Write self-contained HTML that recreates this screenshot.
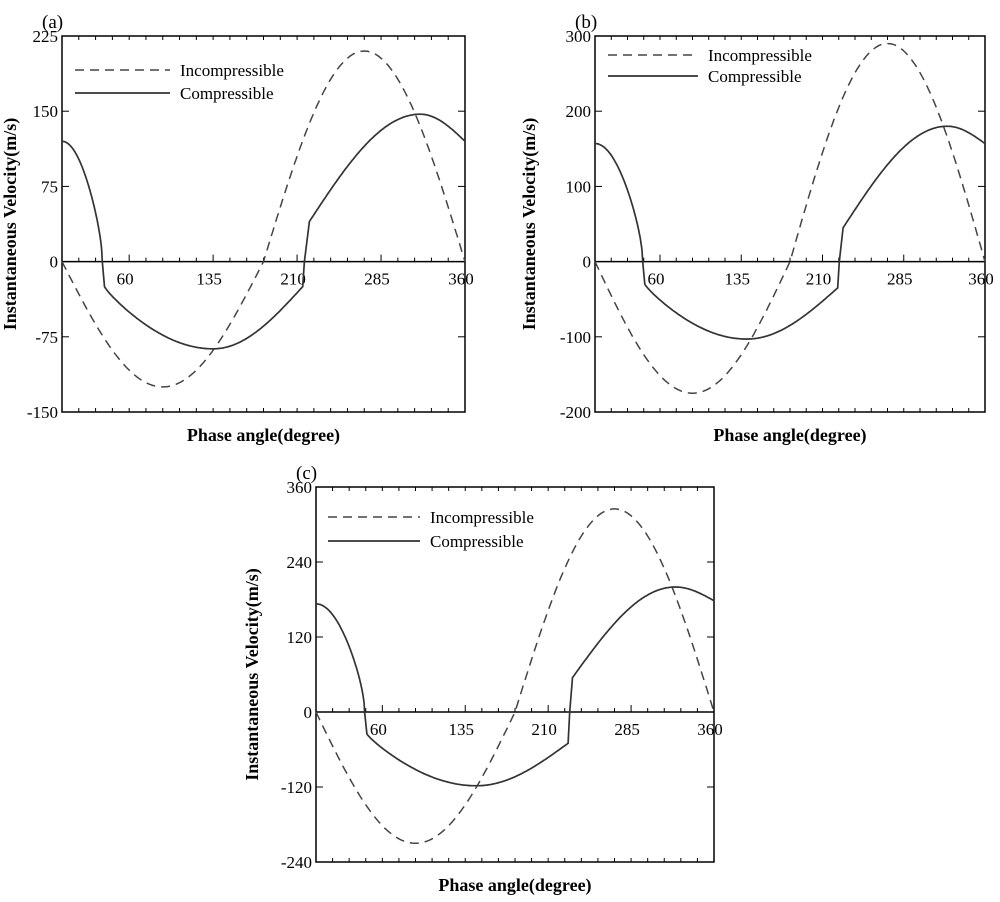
<!DOCTYPE html>
<html><head><meta charset="utf-8"><style>
body{margin:0;background:#fff;}
svg text{font-family:"Liberation Serif",serif;fill:#000;}
</style></head><body>
<svg id="s" width="1000" height="897" xmlns="http://www.w3.org/2000/svg"></svg>
<script>
const S=document.getElementById('s');
let out='';
function panel(p){
 const {x0,x1,yT,yB,ymax,ymin,yticks,lab,inc,comp,leg,ylab}=p;
 const X=t=>x0+(x1-x0)*t/360, Y=v=>yT+(yB-yT)*(ymax-v)/(ymax-ymin);
 const y0=Y(0);
 out+=`<rect x="${x0}" y="${yT}" width="${x1-x0}" height="${yB-yT}" fill="none" stroke="#000" stroke-width="1.5"/>`;
 out+=`<line x1="${x0}" y1="${y0}" x2="${x1}" y2="${y0}" stroke="#000" stroke-width="1.5"/>`;
 for(let t=0;t<=360;t+=15){const L=(t%75==60||t==360)?7:4;out+=`<line x1="${X(t)}" y1="${y0-L}" x2="${X(t)}" y2="${y0}" stroke="#000"/>`;}
 for(let t=0;t<=360;t+=15){out+=`<line x1="${X(t)}" y1="${yB}" x2="${X(t)}" y2="${yB-4}" stroke="#000"/><line x1="${X(t)}" y1="${yT}" x2="${X(t)}" y2="${yT+4}" stroke="#000"/>`;}
 [60,135,210,285,360].forEach(t=>out+=`<text x="${X(t)-4}" y="${y0+23}" font-size="17" text-anchor="middle">${t}</text>`);
 yticks.forEach(v=>{out+=`<text x="${x0-4}" y="${Y(v)+6}" font-size="17" text-anchor="end">${v}</text><line x1="${x0}" y1="${Y(v)}" x2="${x0+7}" y2="${Y(v)}" stroke="#000"/><line x1="${x1}" y1="${Y(v)}" x2="${x1-7}" y2="${Y(v)}" stroke="#000"/>`;});
 out+=`<text x="${x0-20}" y="${yT-8}" font-size="19">${lab}</text>`;
 out+=`<text x="${(x0+x1)/2}" y="${yB+29}" font-size="18" font-weight="bold" text-anchor="middle">Phase angle(degree)</text>`;
 out+=`<text transform="translate(${ylab},${(yT+yB)/2}) rotate(-90)" font-size="18" font-weight="bold" text-anchor="middle">Instantaneous Velocity(m/s)</text>`;
 let d='';
 for(let t=0;t<=360;t+=1){const th=t*Math.PI/180;let v=t<=180?inc[0]*Math.sin(th):inc[1]*Math.sin(th);d+=(t?'L':'M')+X(t).toFixed(1)+' '+Y(v).toFixed(1);}
 out+=`<path d="${d}" fill="none" stroke="#444" stroke-width="1.5" stroke-dasharray="9,6"/>`;
 const c=comp;d='';const pts=[];
 for(let t=0;t<=c.tz;t+=0.5){const u=t/c.tz;pts.push([t,c.v0*(0.5*Math.cos(Math.PI/2*u)+0.5*Math.sqrt(Math.max(0,1-u*u)))]);}
 for(let t=c.t1;t<=c.tm;t+=1)pts.push([t,c.a+(c.vm-c.a)*Math.pow(Math.sin(Math.PI/2*(t-c.t1)/(c.tm-c.t1)),0.85)]);
 for(let t=c.tm;t<=c.t2;t+=1)pts.push([t,c.vm+(c.b-c.vm)*(1-Math.cos(Math.PI/2*(t-c.tm)/(c.t2-c.tm)))]);
 pts.push([c.t2+1.5,0]);
 for(let t=c.t3;t<=c.tp;t+=1)pts.push([t,c.c+(c.vp-c.c)*Math.sin(Math.PI/2*(t-c.t3)/(c.tp-c.t3))]);
 for(let t=c.tp;t<=360;t+=1)pts.push([t,c.vp-(c.vp-c.ve)*(1-Math.cos(Math.PI/2*(t-c.tp)/(360-c.tp)))]);
 pts.forEach((q,i)=>d+=(i?'L':'M')+X(q[0]).toFixed(1)+' '+Y(q[1]).toFixed(1));
 out+=`<path d="${d}" fill="none" stroke="#333" stroke-width="1.7"/>`;
 out+=`<line x1="${leg.x}" y1="${leg.y1}" x2="${leg.x+leg.w}" y2="${leg.y1}" stroke="#444" stroke-width="1.5" stroke-dasharray="9,6"/><text x="${leg.x+leg.w+10}" y="${leg.y1+6}" font-size="17">Incompressible</text>`;
 out+=`<line x1="${leg.x}" y1="${leg.y2}" x2="${leg.x+leg.w}" y2="${leg.y2}" stroke="#333" stroke-width="1.7"/><text x="${leg.x+leg.w+10}" y="${leg.y2+6}" font-size="17">Compressible</text>`;
}
panel({x0:62,x1:465,yT:36,yB:412,ymax:225,ymin:-150,yticks:[225,150,75,0,-75,-150],lab:"(a)",inc:[-125,-210],
 comp:{v0:120,tz:36,t1:38,a:-25,vm:-87,tm:135,t2:215,b:-25,t3:221,c:40,vp:147,tp:320,ve:120},leg:{x:75,w:95,y1:70,y2:93},ylab:16});
panel({x0:595,x1:985,yT:36,yB:412,ymax:300,ymin:-200,yticks:[300,200,100,0,-100,-200],lab:"(b)",inc:[-175,-290],
 comp:{v0:157,tz:44,t1:46,a:-30,vm:-103,tm:140,t2:224,b:-35,t3:229,c:45,vp:180,tp:325,ve:157},leg:{x:608,w:90,y1:55,y2:76},ylab:535});
panel({x0:316,x1:714,yT:487,yB:862,ymax:360,ymin:-240,yticks:[360,240,120,0,-120,-240],lab:"(c)",inc:[-210,-325],
 comp:{v0:173,tz:44,t1:46,a:-35,vm:-118,tm:145,t2:228,b:-50,t3:232,c:55,vp:200,tp:325,ve:178},leg:{x:328,w:92,y1:517,y2:541},ylab:258});
S.innerHTML=out;
</script>
</body></html>
